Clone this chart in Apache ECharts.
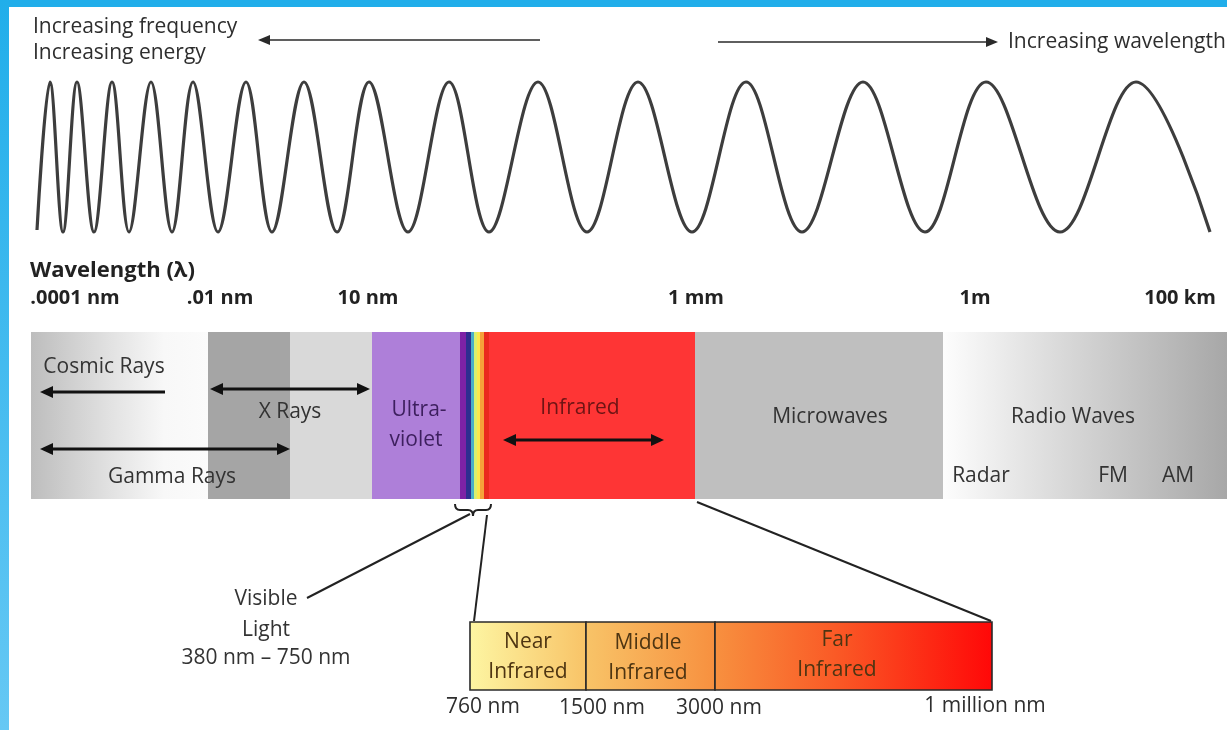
<!DOCTYPE html>
<html>
<head>
<meta charset="UTF-8">
<title>Electromagnetic Spectrum</title>
<script src="https://cdn.jsdelivr.net/npm/echarts@6.0.0/dist/echarts.min.js"></script>
<style>
html,body{margin:0;padding:0;background:#fff;}
#charts{width:1227px;height:730px;}
</style>
</head>
<body>
<div id="charts"></div>
<script type="text/javascript">
// ---- wave: start point, crests / troughs, end point ----
var waveX = [37,50,63,77,94,112,129,151,172,193,218,246,272,304,337,369,408,449,489,538,587,638,692,746,802,863,925,986,1060,1136,1210];
var waveY = [230,82,232,82,232,82,232,82,232,82,232,82,232,82,232,82,232,82,232,82,232,82,232,82,232,82,232,82,232,82,232];

// ---- wavelength scale ----
var axisTitle = ['Wavelength (λ)'];
var tickLabels = ['.0001 nm', '.01 nm', '10 nm', '1 mm', '1m', '100 km'];
var tickAt = [75, 220, 368, 696, 975, 1180];

// ---- spectrum bands (diagram units) ----
var bandNames = ['Cosmic', 'X core', 'X edge', 'Ultraviolet', 'violet', 'blue', 'cyan', 'green', 'yellow', 'orange', 'red', 'Infrared', 'Microwaves', 'Radio'];
var bandFrom = [31, 208, 290, 372, 460, 466, 471, 474, 477, 480, 484, 489, 695, 943];
var bandTo   = [208, 290, 372, 460, 466, 471, 474, 477, 480, 484, 489, 695, 943, 1227];
var barTop = 332, barBottom = 499;

// ---- infrared detail ----
var irNames = ['Near', 'Middle', 'Far'];
var irFrom = [470, 586, 715];
var irTo = [586, 715, 992];
var irTop = 622, irBottom = 690;
var irTicks = ['760 nm', '1500 nm', '3000 nm', '1 million nm'];

// ---- label texts ----
var topTexts = ['Increasing frequency', 'Increasing energy', 'Increasing wavelength'];
var bandTexts = ['Cosmic Rays', 'X Rays', 'Gamma Rays', 'Microwaves', 'Radio Waves', 'Radar', 'FM', 'AM'];
var uvTexts = ['Ultra-', 'violet'];
var irText = ['Infrared'];
var visibleTexts = ['Visible', 'Light', '380 nm – 750 nm'];
var irBoxTexts = ['Near', 'Infrared', 'Middle', 'Infrared', 'Far', 'Infrared'];

// ---- arrows [x1, y1, x2(tip), y2, both ends] ----
var thinArrows = [[540, 40, 258, 40, 0], [718, 42, 998, 42, 0]];
var boldArrows = [[165, 392, 40, 392, 0], [210, 389, 370, 389, 1], [40, 449, 290, 449, 1], [503, 440, 664, 440, 1]];
var callouts = [[307, 598, 470, 514], [487, 515, 474, 621], [697, 502, 991, 621]];
var brace = [[455, 491, 504, 516]];

// styles
var bandFill = {
	'Cosmic': function(){ return new echarts.graphic.LinearGradient(0,0,1,0,[{offset:0,color:'#bdbdbd'},{offset:0.45,color:'#e2e2e2'},{offset:0.75,color:'#f8f8f8'},{offset:1,color:'#fbfbfb'}]); },
	'X core': '#a5a5a5', 'X edge': '#d9d9d9', 'Ultraviolet': '#ae7fd9',
	'violet': '#7d22a6', 'blue': '#2e2e90', 'cyan': '#48b0c8', 'green': '#d8f070', 'yellow': '#fbe94c', 'orange': '#f6a23a', 'red': '#ea2a1e',
	'Infrared': '#fe3535', 'Microwaves': '#bfbfbf',
	'Radio': function(){ return new echarts.graphic.LinearGradient(0,0,1,0,[{offset:0,color:'#fdfdfd'},{offset:0.5,color:'#d2d2d2'},{offset:1,color:'#a7a7a7'}]); }
};
var FONT = '"Open Sans", "DejaVu Sans", sans-serif';

function labelSeries(texts, points, font, color, align){
	return {
		type:'custom', coordinateSystem:'cartesian2d', silent:true, z:10,
		data:points,
		renderItem:function(params, api){
			var p = api.coord([api.value(0), api.value(1)]);
			return {type:'text', x:p[0], y:p[1], style:{text:texts[params.dataIndex], font:font + ' ' + FONT, fill:color, align:align || 'center', verticalAlign:'middle'}};
		}
	};
}

function arrowSeries(list, width, headLen, headHalf, color){
	return {
		type:'custom', coordinateSystem:'cartesian2d', silent:true, z:5,
		data:list,
		renderItem:function(params, api){
			var a = api.coord([api.value(0), api.value(1)]);
			var b = api.coord([api.value(2), api.value(3)]);
			var both = api.value(4);
			var dx = b[0]-a[0], dy = b[1]-a[1], len = Math.sqrt(dx*dx+dy*dy);
			var ux = dx/len, uy = dy/len, nx = -uy, ny = ux;
			function head(t, sx, sy){
				var bx = t[0] + sx*headLen, by = t[1] + sy*headLen;
				return {type:'polygon', shape:{points:[[t[0],t[1]],[bx+nx*headHalf,by+ny*headHalf],[bx-nx*headHalf,by-ny*headHalf]]}, style:{fill:color}};
			}
			var s = both ? [a[0]+ux*(headLen-1), a[1]+uy*(headLen-1)] : a;
			var e = [b[0]-ux*(headLen-1), b[1]-uy*(headLen-1)];
			var kids = [{type:'line', shape:{x1:s[0],y1:s[1],x2:e[0],y2:e[1]}, style:{stroke:color, lineWidth:width}}, head(b, -ux, -uy)];
			if(both) kids.push(head(a, ux, uy));
			return {type:'group', children:kids};
		}
	};
}

var mychart = echarts.init(document.getElementById('charts'));

var option = {
	animation:false,
	backgroundColor:'#ffffff',
	grid:{left:0, right:0, top:0, bottom:0},
	xAxis:{type:'value', min:0, max:1227, show:false},
	yAxis:{type:'value', min:0, max:730, inverse:true, show:false},
	graphic:[
		{type:'rect', left:0, top:0, shape:{width:1227, height:7}, style:{fill:'#21aeea'}, z:100},
		{type:'rect', left:0, top:0, shape:{width:9, height:730}, style:{fill:new echarts.graphic.LinearGradient(0,0,0,1,[{offset:0,color:'#21aeea'},{offset:1,color:'#66c8f4'}])}, z:100}
	],
	series:[
		{
			// the wave
			type:'line', smooth:0.36, symbol:'none', silent:true,
			data:waveX.map(function(x, i){ return [x, waveY[i]]; }),
			lineStyle:{color:'#3d3d3d', width:3.2}
		},
		{
			// spectrum bar
			type:'custom', coordinateSystem:'cartesian2d', silent:true,
			data:bandFrom.map(function(f, i){ return [f, bandTo[i], barTop, barBottom]; }),
			renderItem:function(params, api){
				var p0 = api.coord([api.value(0), api.value(2)]);
				var p1 = api.coord([api.value(1), api.value(3)]);
				var fill = bandFill[bandNames[params.dataIndex]];
				if(typeof fill === 'function') fill = fill();
				return {type:'rect', shape:{x:p0[0], y:p0[1], width:p1[0]-p0[0]+0.5, height:p1[1]-p0[1]}, style:{fill:fill}};
			}
		},
		{
			// infrared detail box
			type:'custom', coordinateSystem:'cartesian2d', silent:true,
			data:irFrom.map(function(f, i){ return [f, irTo[i], irTop, irBottom]; }),
			renderItem:function(params, api){
				var p0 = api.coord([api.value(0), api.value(2)]);
				var p1 = api.coord([api.value(1), api.value(3)]);
				var g0 = api.coord([irFrom[0], irTop])[0], g1 = api.coord([irTo[irTo.length-1], irTop])[0];
				var grad = new echarts.graphic.LinearGradient(g0, 0, g1, 0, [
					{offset:0, color:'#fdf5a2'}, {offset:0.22, color:'#f8c468'}, {offset:0.47, color:'#f7903f'},
					{offset:0.7, color:'#fa5a26'}, {offset:1, color:'#ff0808'}], true);
				return {type:'rect', shape:{x:p0[0], y:p0[1], width:p1[0]-p0[0], height:p1[1]-p0[1]}, style:{fill:grad, stroke:'#2a2a2a', lineWidth:1.6}};
			}
		},
		{
			// callout lines
			type:'custom', coordinateSystem:'cartesian2d', silent:true, z:4,
			data:callouts,
			renderItem:function(params, api){
				var a = api.coord([api.value(0), api.value(1)]);
				var b = api.coord([api.value(2), api.value(3)]);
				return {type:'line', shape:{x1:a[0], y1:a[1], x2:b[0], y2:b[1]}, style:{stroke:'#222', lineWidth:2}};
			}
		},
		{
			// brace under visible light
			type:'custom', coordinateSystem:'cartesian2d', silent:true, z:4,
			data:brace,
			renderItem:function(params, api){
				var l = api.coord([api.value(0), api.value(2)]);
				var r = api.coord([api.value(1), api.value(3)]);
				var xl = l[0], xr = r[0], yt = l[1], yb = r[1];
				var xm = (xl+xr)/2, ym = (yt+yb)/2;
				var st = {stroke:'#222', lineWidth:2, fill:null};
				return {type:'group', children:[
					{type:'bezierCurve', shape:{x1:xl, y1:yt, cpx1:xl, cpy1:ym, x2:xl+5, y2:ym}, style:st},
					{type:'line', shape:{x1:xl+5, y1:ym, x2:xm-5, y2:ym}, style:st},
					{type:'bezierCurve', shape:{x1:xm-5, y1:ym, cpx1:xm, cpy1:ym, x2:xm, y2:yb}, style:st},
					{type:'bezierCurve', shape:{x1:xm, y1:yb, cpx1:xm, cpy1:ym, x2:xm+5, y2:ym}, style:st},
					{type:'line', shape:{x1:xm+5, y1:ym, x2:xr-5, y2:ym}, style:st},
					{type:'bezierCurve', shape:{x1:xr-5, y1:ym, cpx1:xr, cpy1:ym, x2:xr, y2:yt}, style:st}
				]};
			}
		},
		arrowSeries(thinArrows, 1.6, 12, 5, '#2a2a2a'),
		arrowSeries(boldArrows, 3, 13, 6, '#111111'),
		labelSeries(topTexts, [[33, 27], [33, 53], [1008, 42]], '21px', '#2e2e2e', 'left'),
		labelSeries(axisTitle, [[30, 271]], 'bold 22px', '#222222', 'left'),
		labelSeries(tickLabels, tickAt.map(function(x){ return [x, 298]; }), 'bold 20px', '#222222'),
		labelSeries(bandTexts, [[104, 367], [290, 412], [172, 477], [830, 417], [1073, 417], [981, 476], [1113, 476], [1178, 476]], '21px', '#333333'),
		labelSeries(uvTexts, [[419, 410], [416, 440]], '21px', '#3d1f5e'),
		labelSeries(irText, [[580, 408]], '21px', '#6e1414'),
		labelSeries(visibleTexts, [[266, 599], [266, 630], [266, 658]], '21px', '#333333'),
		labelSeries(irBoxTexts, [[528, 642], [528, 672], [648, 643], [648, 673], [837, 640], [837, 670]], '21px', '#4e3512'),
		labelSeries(irTicks, [[483, 707], [602, 708], [719, 708], [985, 706]], '21px', '#2e2e2e')
	]
};

mychart.setOption(option);
</script>
</body>
</html>
